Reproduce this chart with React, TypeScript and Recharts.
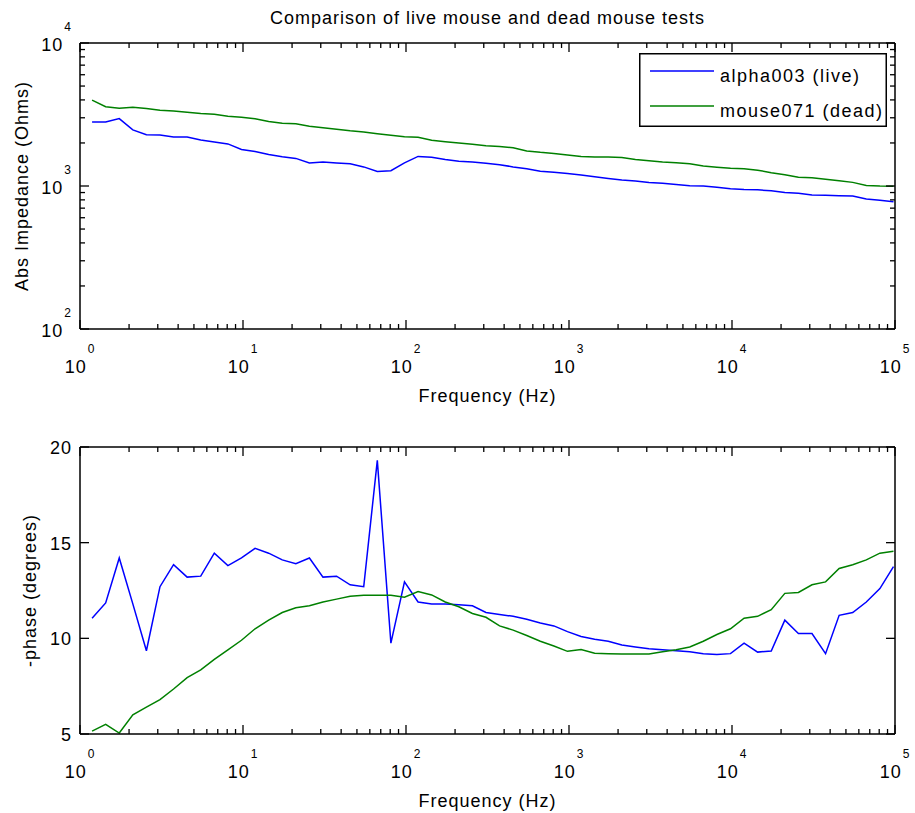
import { LineChart, Line, XAxis, YAxis, Legend } from 'recharts'

// frequencies in Hz, about 12 points per decade
const freq = [
  1.186, 1.437, 1.741, 2.109, 2.555, 3.095, 3.75, 4.543, 5.504, 6.668, 8.078, 9.788,
  11.86, 14.37, 17.41, 21.09, 25.55, 30.95, 37.5, 45.43, 55.04, 66.68, 80.78, 97.88,
  118.6, 143.7, 174.1, 210.9, 255.5, 309.5, 375.0, 454.3, 550.4, 666.8, 807.8, 978.8,
  1186, 1437, 1741, 2109, 2555, 3095, 3750, 4543, 5504, 6668, 8078, 9788,
  11860, 14370, 17410, 21090, 25550, 30950, 37500, 45430, 55040, 66680, 80780, 97880,
]

// |Z| in Ohms
const liveZ = [
  2800, 2800, 2960, 2470, 2280, 2275, 2200, 2200, 2100, 2030, 1970, 1800,
  1740, 1660, 1600, 1560, 1450, 1470, 1450, 1430, 1360, 1265, 1280, 1450,
  1610, 1590, 1530, 1490, 1470, 1440, 1410, 1360, 1320, 1270, 1250, 1225,
  1195, 1160, 1130, 1100, 1085, 1060, 1045, 1025, 1005, 1000, 980, 955,
  945, 940, 925, 900, 890, 865, 860, 855, 850, 810, 795, 775,
]
const deadZ = [
  3990, 3580, 3500, 3560, 3480, 3380, 3350, 3280, 3220, 3180, 3080, 3020,
  2950, 2830, 2750, 2720, 2620, 2550, 2490, 2430, 2390, 2320, 2260, 2210,
  2190, 2090, 2040, 2000, 1960, 1915, 1890, 1850, 1760, 1720, 1690, 1650,
  1610, 1595, 1595, 1580, 1530, 1500, 1470, 1455, 1430, 1380, 1355, 1330,
  1320, 1290, 1240, 1200, 1150, 1140, 1115, 1090, 1060, 1010, 1000, 995,
]

// -phase in degrees
const livePhase = [
  11.05, 11.85, 14.2, 11.8, 9.35, 12.7, 13.85, 13.2, 13.25, 14.45, 13.8, 14.2,
  14.7, 14.45, 14.1, 13.9, 14.2, 13.2, 13.25, 12.8, 12.7, 19.3, 9.75, 12.95,
  11.9, 11.8, 11.8, 11.75, 11.7, 11.35, 11.25, 11.15, 11.0, 10.8, 10.65, 10.35,
  10.1, 9.95, 9.85, 9.65, 9.55, 9.45, 9.4, 9.35, 9.3, 9.2, 9.15, 9.2,
  9.75, 9.28, 9.34, 10.95, 10.25, 10.25, 9.2, 11.2, 11.35, 11.9, 12.6, 13.75,
]
const deadPhase = [
  5.15, 5.5, 5.05, 6.0, 6.4, 6.8, 7.35, 7.95, 8.35, 8.9, 9.4, 9.9,
  10.5, 10.95, 11.35, 11.6, 11.7, 11.9, 12.05, 12.2, 12.25, 12.25, 12.25, 12.15,
  12.45, 12.27, 11.9, 11.65, 11.3, 11.1, 10.65, 10.43, 10.15, 9.85, 9.6, 9.32,
  9.42, 9.22, 9.2, 9.18, 9.18, 9.18, 9.3, 9.4, 9.55, 9.85, 10.2, 10.5,
  11.05, 11.15, 11.5, 12.35, 12.4, 12.8, 12.95, 13.65, 13.85, 14.1, 14.45, 14.55,
]

const freqTicks = [
  1, 2, 3, 4, 5, 6, 7, 8, 9,
  10, 20, 30, 40, 50, 60, 70, 80, 90,
  100, 200, 300, 400, 500, 600, 700, 800, 900,
  1000, 2000, 3000, 4000, 5000, 6000, 7000, 8000, 9000,
  10000, 20000, 30000, 40000, 50000, 60000, 70000, 80000, 90000,
  100000,
]
const impTicks = [
  100, 200, 300, 400, 500, 600, 700, 800, 900,
  1000, 2000, 3000, 4000, 5000, 6000, 7000, 8000, 9000,
  10000,
]
const phaseTicks = [5, 10, 15, 20]

const data = freq.map((f, i) => ({
  f,
  liveZ: liveZ[i],
  deadZ: deadZ[i],
  livePhase: livePhase[i],
  deadPhase: deadPhase[i],
}))

const FONT = '"Liberation Sans", Arial, Helvetica, sans-serif'
const BLUE = '#0000ff'
const GREEN = '#008000'

const isMajor = (v: number) => {
  const e = Math.log10(v)
  return Math.abs(e - Math.round(e)) < 1e-9
}

function FreqTick({ x, y, payload, side }: any) {
  const v = payload.value
  const major = isMajor(v)
  const len = major ? 9 : 5
  const top = side === 'top'
  return (
    <g>
      <line x1={x} x2={x} y1={y} y2={top ? y + len : y - len} stroke="#000" strokeWidth={1.3} />
      {!top && major && (
        <text x={x} y={y + 44} textAnchor="middle" fontFamily={FONT} fontSize={18} letterSpacing={1} fill="#000">
          10
          <tspan dx={1} dy={-20} fontSize={12}>
            {Math.round(Math.log10(v))}
          </tspan>
        </text>
      )}
    </g>
  )
}

function ImpTick({ x, y, payload, side }: any) {
  const v = payload.value
  const major = isMajor(v)
  const len = major ? 9 : 5
  const left = side === 'left'
  return (
    <g>
      <line x1={x} x2={left ? x + len : x - len} y1={y} y2={y} stroke="#000" strokeWidth={1.3} />
      {left && major && (
        <text x={x - 8} y={y + 8} textAnchor="end" fontFamily={FONT} fontSize={18} letterSpacing={1} fill="#000">
          10
          <tspan dx={1} dy={-20} fontSize={12}>
            {Math.round(Math.log10(v))}
          </tspan>
        </text>
      )}
    </g>
  )
}

function PhaseTick({ x, y, payload, side }: any) {
  const left = side === 'left'
  return (
    <g>
      <line x1={x} x2={left ? x + 9 : x - 9} y1={y} y2={y} stroke="#000" strokeWidth={1.3} />
      {left && (
        <text x={x - 8} y={y + 7} textAnchor="end" fontFamily={FONT} fontSize={18} letterSpacing={1} fill="#000">
          {payload.value}
        </text>
      )}
    </g>
  )
}

function LegendBox({ payload }: any) {
  return (
    <svg width={248} height={74} style={{ display: 'block' }}>
      <rect x={0.75} y={0.75} width={246.5} height={72.5} fill="#fff" stroke="#000" strokeWidth={1.5} />
      {(payload || []).map((p: any, i: number) => (
        <g key={p.value}>
          <line x1={11} x2={75} y1={18 + i * 35} y2={18 + i * 35} stroke={p.color} strokeWidth={1.5} />
          <text x={81} y={29 + i * 35} fontFamily={FONT} fontSize={18} letterSpacing={1.5} fill="#000">
            {p.value}
          </text>
        </g>
      ))}
    </svg>
  )
}

const axisLine = { stroke: '#000', strokeWidth: 1.5 }
const labelStyle = { fontFamily: FONT, fontSize: 18, letterSpacing: 1, fill: '#000' }

export default function App() {
  return (
    <div style={{ position: 'absolute', left: 0, top: 0, width: 915, height: 813, background: '#fff' }}>
      <LineChart width={915} height={415} data={data} margin={{ top: 42, right: 19, bottom: 0, left: 0 }}>
        <XAxis
          dataKey="f"
          type="number"
          scale="log"
          domain={[1, 100000]}
          allowDataOverflow
          ticks={freqTicks}
          interval={0}
          height={86}
          tickSize={0}
          tickMargin={0}
          tickLine={false}
          axisLine={axisLine}
          tick={(p: any) => <FreqTick {...p} side="bottom" />}
          label={{ value: 'Frequency (Hz)', position: 'insideBottom', offset: 13, style: labelStyle }}
        />
        <XAxis
          xAxisId="top"
          orientation="top"
          dataKey="f"
          type="number"
          scale="log"
          domain={[1, 100000]}
          allowDataOverflow
          ticks={freqTicks}
          interval={0}
          height={1}
          tickSize={0}
          tickMargin={0}
          tickLine={false}
          axisLine={axisLine}
          tick={(p: any) => <FreqTick {...p} side="top" />}
          label={{ value: 'Comparison of live mouse and dead mouse tests', position: 'top', offset: 18, style: labelStyle }}
        />
        <YAxis
          type="number"
          scale="log"
          domain={[100, 10000]}
          allowDataOverflow
          ticks={impTicks}
          interval={0}
          width={80}
          tickSize={0}
          tickMargin={0}
          tickLine={false}
          axisLine={axisLine}
          tick={(p: any) => <ImpTick {...p} side="left" />}
          label={{ value: 'Abs Impedance (Ohms)', angle: -90, position: 'insideLeft', offset: 22, style: { ...labelStyle, textAnchor: 'middle' } }}
        />
        <YAxis
          yAxisId="right"
          orientation="right"
          type="number"
          scale="log"
          domain={[100, 10000]}
          allowDataOverflow
          ticks={impTicks}
          interval={0}
          width={1}
          tickSize={0}
          tickMargin={0}
          tickLine={false}
          axisLine={axisLine}
          tick={(p: any) => <ImpTick {...p} side="right" />}
        />
        <Line dataKey="liveZ" name="alpha003 (live)" stroke={BLUE} strokeWidth={1.5} dot={false} isAnimationActive={false} />
        <Line dataKey="deadZ" name="mouse071 (dead)" stroke={GREEN} strokeWidth={1.5} dot={false} isAnimationActive={false} />
        <Legend
          layout="vertical"
          align="center"
          verticalAlign="middle"
          wrapperStyle={{ left: 639, top: 53, width: 248, height: 74 }}
          content={LegendBox}
        />
      </LineChart>

      <LineChart width={915} height={398} data={data} margin={{ top: 31, right: 19, bottom: 0, left: 0 }}>
        <XAxis
          dataKey="f"
          type="number"
          scale="log"
          domain={[1, 100000]}
          allowDataOverflow
          ticks={freqTicks}
          interval={0}
          height={79}
          tickSize={0}
          tickMargin={0}
          tickLine={false}
          axisLine={axisLine}
          tick={(p: any) => <FreqTick {...p} side="bottom" />}
          label={{ value: 'Frequency (Hz)', position: 'insideBottom', offset: 6, style: labelStyle }}
        />
        <XAxis
          xAxisId="top"
          orientation="top"
          dataKey="f"
          type="number"
          scale="log"
          domain={[1, 100000]}
          allowDataOverflow
          ticks={freqTicks}
          interval={0}
          height={1}
          tickSize={0}
          tickMargin={0}
          tickLine={false}
          axisLine={axisLine}
          tick={(p: any) => <FreqTick {...p} side="top" />}
        />
        <YAxis
          type="number"
          domain={[5, 20]}
          allowDataOverflow
          ticks={phaseTicks}
          interval={0}
          width={80}
          tickSize={0}
          tickMargin={0}
          tickLine={false}
          axisLine={axisLine}
          tick={(p: any) => <PhaseTick {...p} side="left" />}
          label={{ value: '-phase (degrees)', angle: -90, position: 'insideLeft', offset: 30, style: { ...labelStyle, textAnchor: 'middle' } }}
        />
        <YAxis
          yAxisId="right"
          orientation="right"
          type="number"
          domain={[5, 20]}
          allowDataOverflow
          ticks={phaseTicks}
          interval={0}
          width={1}
          tickSize={0}
          tickMargin={0}
          tickLine={false}
          axisLine={axisLine}
          tick={(p: any) => <PhaseTick {...p} side="right" />}
        />
        <Line dataKey="livePhase" stroke={BLUE} strokeWidth={1.5} dot={false} isAnimationActive={false} />
        <Line dataKey="deadPhase" stroke={GREEN} strokeWidth={1.5} dot={false} isAnimationActive={false} />
      </LineChart>
    </div>
  )
}
